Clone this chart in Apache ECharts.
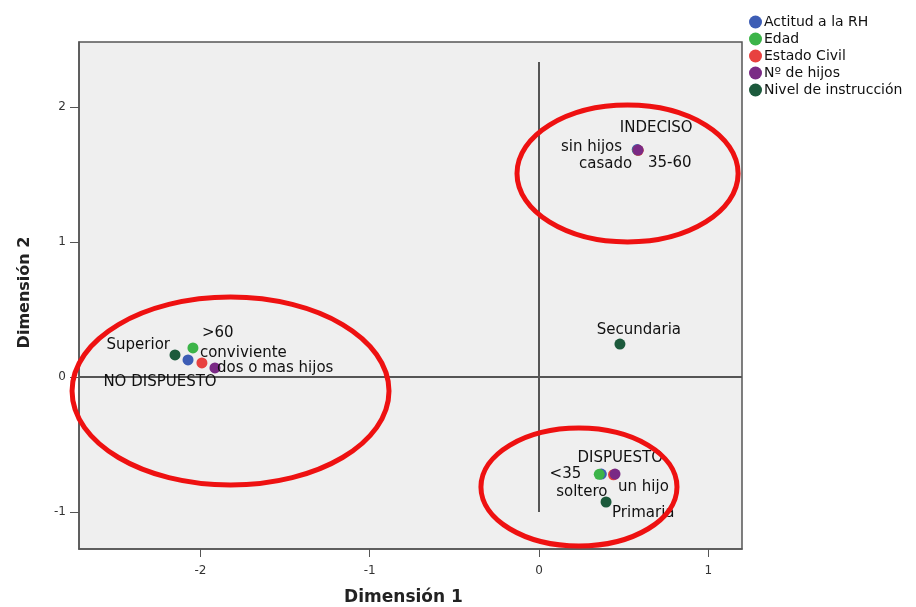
<!DOCTYPE html>
<html>
<head>
<meta charset="utf-8">
<script src="https://cdn.jsdelivr.net/npm/echarts@6/dist/echarts.min.js"></script>
<style>
html,body{margin:0;padding:0;background:#fff;}
#chart{width:916px;height:607px;}
</style>
</head>
<body>
<div id="chart"></div>
<script>
// ---- Data ----
const seriesNames = ['Actitud a la RH', 'Edad', 'Estado Civil', 'Nº de hijos', 'Nivel de instrucción'];

const actitudNames = ['NO DISPUESTO', 'INDECISO', 'DISPUESTO'];
const actitudX = [-2.073, 0.580, 0.368];
const actitudY = [0.126, 1.684, -0.719];

const edadNames = ['>60', '35-60', '<35'];
const edadX = [-2.044, 0.584, 0.356];
const edadY = [0.215, 1.680, -0.721];

const civilNames = ['conviviente', 'casado', 'soltero'];
const civilX = [-1.991, 0.586, 0.440];
const civilY = [0.104, 1.679, -0.724];

const hijosNames = ['dos o mas hijos', 'sin hijos', 'un hijo'];
const hijosX = [-1.914, 0.585, 0.449];
const hijosY = [0.067, 1.681, -0.719];

const nivelNames = ['Superior', 'Secundaria', 'Primaria'];
const nivelX = [-2.150, 0.478, 0.396];
const nivelY = [0.163, 0.244, -0.926];

const xTicks = [-2, -1, 0, 1];
const yTicks = [-1, 0, 1, 2];
const xRange = [-2.717, 1.199];
const yRange = [-1.274, 2.481];

// vertical reference line extent (data units) and horizontal at y = 0
const refVertical = { x: 0, y1: 2.333, y2: -1.0 };
const refHorizontalY = 0;

// highlighted groups (data units): center x, center y, radius x, radius y
const ellipses = [
  [-1.822, -0.104, 0.936, 0.696],
  [0.523, 1.507, 0.653, 0.507],
  [0.236, -0.815, 0.579, 0.437]
];

// ---- Styling (kept apart from data) ----
const colors = ['#3d5db5', '#3cb449', '#e8413f', '#7a2a85', '#1c5a3c'];
// label placement: [dx, dy, align]
const labelPlace = {
  'Superior': [-5, -10, 'right'],
  '>60': [9, -15, 'left'],
  'conviviente': [-2, -10, 'left'],
  'dos o mas hijos': [2, 0, 'left'],
  'NO DISPUESTO': [-28, 22, 'center'],
  'INDECISO': [19, -22, 'center'],
  'sin hijos': [-16, -3, 'right'],
  'casado': [-6, 14, 'right'],
  '35-60': [10, 13, 'left'],
  'DISPUESTO': [19, -16, 'center'],
  '<35': [-18, 0, 'right'],
  'soltero': [-6, 17, 'right'],
  'un hijo': [3, 13, 'left'],
  'Primaria': [6, 11, 'left'],
  'Secundaria': [19, -14, 'center']
};

const FONT = 'DejaVu Sans, sans-serif';

function buildData(names, xs, ys) {
  return names.map((n, i) => {
    const p = labelPlace[n] || [8, 0, 'left'];
    return {
      name: n,
      value: [xs[i], ys[i]],
      label: {
        show: true,
        formatter: n,
        position: ['50%', '50%'],
        offset: [p[0], p[1]],
        align: p[2],
        verticalAlign: 'middle'
      }
    };
  });
}

const groups = [
  [actitudNames, actitudX, actitudY],
  [edadNames, edadX, edadY],
  [civilNames, civilX, civilY],
  [hijosNames, hijosX, hijosY],
  [nivelNames, nivelX, nivelY]
];

const series = groups.map((g, i) => ({
  name: seriesNames[i],
  type: 'scatter',
  symbol: 'circle',
  symbolSize: 11,
  itemStyle: { color: colors[i], opacity: 1 },
  label: { color: '#111', fontSize: 15, fontFamily: FONT },
  emphasis: { disabled: true },
  data: buildData(g[0], g[1], g[2]),
  z: 3
}));

series[0].markLine = {
  silent: true,
  symbol: 'none',
  animation: false,
  label: { show: false },
  lineStyle: { color: '#555', width: 2, type: 'solid' },
  data: [
    { yAxis: refHorizontalY },
    [ { coord: [refVertical.x, refVertical.y1] }, { coord: [refVertical.x, refVertical.y2] } ]
  ],
  z: 2
};

const chart = echarts.init(document.getElementById('chart'), null, { renderer: 'canvas' });

chart.setOption({
  animation: false,
  backgroundColor: '#ffffff',
  color: colors,
  grid: {
    left: 79, right: 174, top: 42, bottom: 58,
    outerBoundsMode: 'none',
    containLabel: false,
    show: true,
    backgroundColor: '#efefef',
    borderColor: '#555',
    borderWidth: 1.5
  },
  legend: {
    orient: 'vertical',
    left: 744,
    top: 10,
    itemWidth: 13,
    itemHeight: 13,
    itemGap: 3,
    icon: 'circle',
    selectedMode: false,
    textStyle: { fontSize: 14, color: '#111', fontFamily: FONT, padding: [0, 0, 0, -3] },
    data: seriesNames
  },
  xAxis: {
    type: 'value',
    min: xRange[0],
    max: xRange[1],
    name: 'Dimensión 1',
    nameLocation: 'middle',
    nameGap: 40,
    nameTextStyle: { fontSize: 17, fontWeight: 'bold', color: '#222', fontFamily: FONT, padding: [0, 14, 0, 0] },
    axisLine: { show: true, onZero: false, lineStyle: { color: '#555', width: 1.5 } },
    axisTick: { show: true, length: 8, customValues: xTicks, lineStyle: { color: '#555' } },
    axisLabel: { customValues: xTicks, fontSize: 12, color: '#333', margin: 16, fontFamily: FONT },
    splitLine: { show: false }
  },
  yAxis: {
    type: 'value',
    min: yRange[0],
    max: yRange[1],
    name: 'Dimensión 2',
    nameLocation: 'middle',
    nameGap: 46,
    nameRotate: 90,
    nameTextStyle: { fontSize: 16, fontWeight: 'bold', color: '#222', fontFamily: FONT, padding: [0, 0, 0, 6] },
    axisLine: { show: true, onZero: false, lineStyle: { color: '#555', width: 1.5 } },
    axisTick: { show: true, length: 9, customValues: yTicks, lineStyle: { color: '#555' } },
    axisLabel: { customValues: yTicks, fontSize: 12, color: '#333', margin: 13, fontFamily: FONT },
    splitLine: { show: false }
  },
  series: series
});

// red highlight ellipses drawn over the chart, placed via the axes
const gfx = ellipses.map(e => {
  const c = chart.convertToPixel({ gridIndex: 0 }, [e[0], e[1]]);
  const rx = chart.convertToPixel({ gridIndex: 0 }, [e[0] + e[2], e[1]])[0] - c[0];
  const ry = c[1] - chart.convertToPixel({ gridIndex: 0 }, [e[0], e[1] + e[3]])[1];
  return {
    type: 'ellipse',
    shape: { cx: c[0], cy: c[1], rx: rx, ry: ry },
    style: { fill: null, stroke: '#ee1111', lineWidth: 5 },
    silent: true,
    z: 100
  };
});
chart.setOption({ graphic: gfx });
</script>
</body>
</html>
